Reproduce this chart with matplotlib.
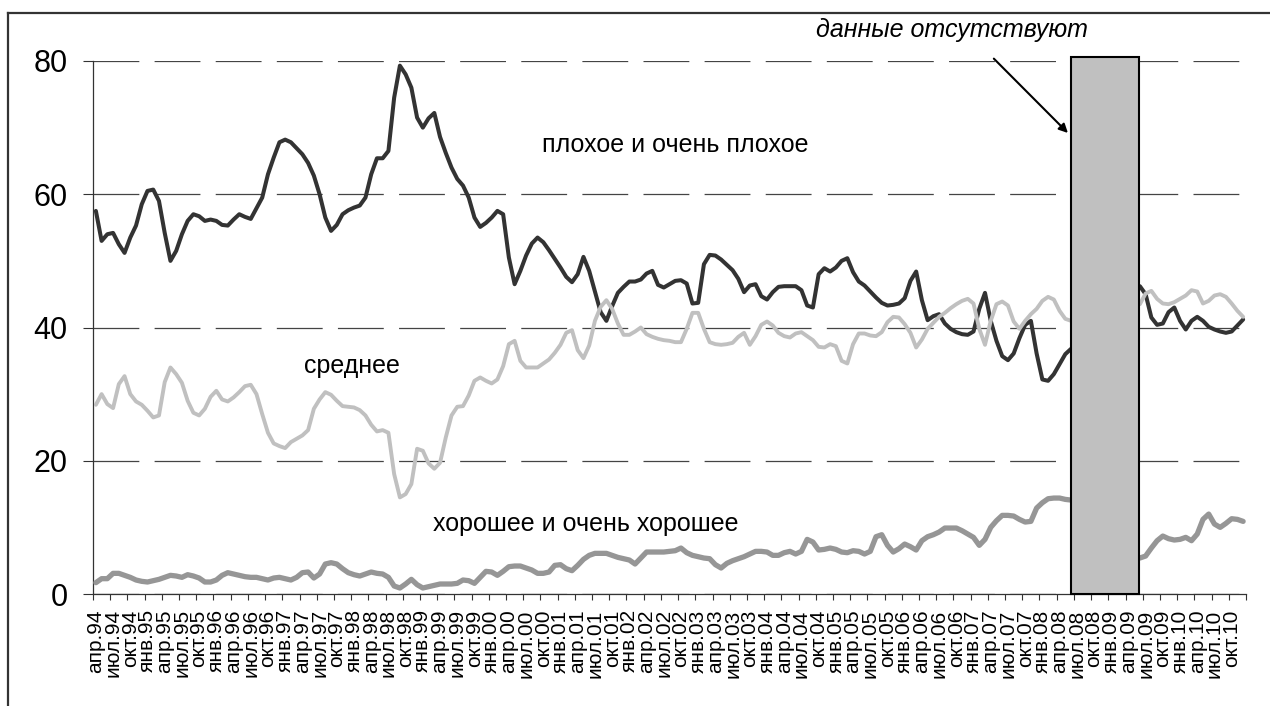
import numpy as np
import matplotlib
matplotlib.use("Agg")
import matplotlib.pyplot as plt
from matplotlib.lines import Line2D
from matplotlib.patches import Rectangle

plt.rcParams['font.family'] = ['Liberation Sans', 'DejaVu Sans']
plt.rcParams['lines.scale_dashes'] = False

nan = np.nan

# monthly values, апр.94 ... дек.10 (201 months); nan = no data
bad = [
    57.5, 53.0, 54.0, 54.2, 52.5, 51.2, 53.5, 55.3, 58.5, 60.5,
    60.7, 59.0, 54.2, 50.0, 51.5, 54.0, 56.0, 57.0, 56.7, 56.0,
    56.2, 56.0, 55.4, 55.3, 56.2, 57.0, 56.6, 56.3, 57.9, 59.5,
    63.0, 65.5, 67.8, 68.2, 67.8, 66.9, 66.0, 64.7, 62.8, 60.0,
    56.5, 54.5, 55.4, 57.0, 57.6, 58.0, 58.3, 59.5, 63.0, 65.4,
    65.4, 66.5, 74.5, 79.3, 78.0, 76.0, 71.5, 70.0, 71.4, 72.2,
    68.6, 66.2, 64.0, 62.3, 61.3, 59.5, 56.5, 55.1, 55.7, 56.5,
    57.5, 57.0, 50.5, 46.5, 48.5, 50.8, 52.6, 53.5, 52.8, 51.6,
    50.3, 49.0, 47.6, 46.8, 48.0, 50.6, 48.5, 45.4, 42.3, 41.0,
    43.2, 45.2, 46.1, 46.9, 46.9, 47.2, 48.1, 48.5, 46.4, 46.0,
    46.5, 47.0, 47.1, 46.6, 43.6, 43.7, 49.5, 50.9, 50.8, 50.2,
    49.4, 48.6, 47.3, 45.3, 46.3, 46.5, 44.7, 44.2, 45.3, 46.1,
    46.2, 46.2, 46.2, 45.6, 43.3, 43.0, 48.0, 48.9, 48.4, 49.0,
    50.0, 50.4, 48.3, 46.9, 46.3, 45.4, 44.5, 43.7, 43.3, 43.4,
    43.6, 44.4, 47.0, 48.4, 44.1, 41.1, 41.7, 42.0, 40.6, 39.8,
    39.3, 39.0, 38.9, 39.4, 42.8, 45.2, 41.0, 38.0, 35.7, 35.1,
    36.1, 38.4, 40.4, 41.0, 36.1, 32.2, 32.0, 33.0, 34.5, 36.0,
    36.8, nan, nan, nan, nan, nan, nan, nan, nan, nan,
    nan, nan, 46.2, 45.0, 41.5, 40.4, 40.6, 42.3, 43.0, 41.0,
    39.7, 41.0, 41.6, 41.0, 40.1, 39.7, 39.4, 39.2, 39.4, 40.3,
    41.2,
]

middle = [
    28.4, 30.0, 28.5, 27.9, 31.5, 32.7, 30.0, 28.9, 28.4, 27.5,
    26.5, 26.8, 31.8, 34.0, 33.0, 31.7, 29.0, 27.2, 26.8, 27.8,
    29.6, 30.5, 29.2, 28.9, 29.5, 30.3, 31.2, 31.4, 30.0, 27.0,
    24.2, 22.6, 22.2, 21.9, 22.8, 23.3, 23.8, 24.6, 27.8, 29.2,
    30.3, 29.9, 29.0, 28.2, 28.1, 28.0, 27.6, 26.8, 25.4, 24.4,
    24.6, 24.2, 18.0, 14.5, 15.0, 16.5, 21.8, 21.5, 19.6, 18.8,
    19.7, 23.5, 26.8, 28.1, 28.2, 29.8, 32.0, 32.5, 32.0, 31.6,
    32.2, 34.2, 37.5, 38.0, 35.0, 34.0, 34.0, 34.0, 34.6, 35.2,
    36.2, 37.4, 39.2, 39.6, 36.6, 35.4, 37.3, 41.0, 43.1, 44.1,
    42.8, 40.6, 38.9, 38.9, 39.4, 40.0, 39.0, 38.6, 38.3, 38.1,
    38.0, 37.8, 37.8, 39.8, 42.2, 42.2, 39.8, 37.8, 37.5, 37.4,
    37.5, 37.7, 38.6, 39.2, 37.4, 38.7, 40.4, 40.9, 40.3, 39.2,
    38.7, 38.5, 39.1, 39.3, 38.7, 38.1, 37.1, 37.0, 37.5, 37.2,
    35.0, 34.6, 37.5, 39.1, 39.1, 38.8, 38.7, 39.3, 40.8, 41.6,
    41.5, 40.5, 39.2, 37.0, 38.2, 39.8, 40.7, 41.6, 42.2, 42.9,
    43.5, 44.0, 44.3, 43.6, 39.8, 37.4, 41.0, 43.5, 43.9, 43.3,
    40.9, 39.8, 41.0, 42.0, 42.8, 44.0, 44.6, 44.2, 42.5, 41.3,
    41.0, nan, nan, nan, nan, nan, nan, nan, nan, nan,
    nan, nan, 43.5, 45.1, 45.5, 44.3, 43.6, 43.5, 43.8, 44.3,
    44.8, 45.6, 45.4, 43.6, 44.0, 44.8, 45.0, 44.6, 43.6, 42.5,
    41.6,
]

good = [
    1.7, 2.3, 2.3, 3.1, 3.1, 2.8, 2.5, 2.1, 1.9, 1.8,
    2.0, 2.2, 2.5, 2.8, 2.7, 2.5, 2.9, 2.7, 2.4, 1.8,
    1.8, 2.1, 2.8, 3.2, 3.0, 2.8, 2.6, 2.5, 2.5, 2.3,
    2.1, 2.4, 2.5, 2.3, 2.1, 2.5, 3.2, 3.3, 2.4, 3.0,
    4.5, 4.7, 4.5, 3.8, 3.2, 2.9, 2.7, 3.0, 3.3, 3.1,
    3.0, 2.5, 1.2, 0.9, 1.5, 2.2, 1.4, 0.9, 1.1, 1.3,
    1.5, 1.5, 1.5, 1.6, 2.1, 2.0, 1.6, 2.5, 3.4, 3.3,
    2.8, 3.4, 4.1, 4.2, 4.2, 3.9, 3.6, 3.1, 3.1, 3.3,
    4.3, 4.4, 3.8, 3.5, 4.3, 5.2, 5.8, 6.1, 6.1, 6.1,
    5.8, 5.5, 5.3, 5.1, 4.5, 5.4, 6.3, 6.3, 6.3, 6.3,
    6.4, 6.5, 6.9, 6.2, 5.8, 5.6, 5.4, 5.3, 4.4, 3.9,
    4.6, 5.0, 5.3, 5.6, 6.0, 6.4, 6.4, 6.3, 5.8, 5.8,
    6.2, 6.4, 6.0, 6.4, 8.2, 7.8, 6.6, 6.7, 6.9, 6.7,
    6.3, 6.2, 6.5, 6.4, 6.0, 6.4, 8.6, 8.9, 7.3, 6.3,
    6.8, 7.5, 7.1, 6.6, 8.0, 8.6, 8.9, 9.3, 9.9, 9.9,
    9.9, 9.5, 9.0, 8.5, 7.3, 8.2, 10.0, 11.0, 11.8, 11.8,
    11.7, 11.2, 10.8, 10.9, 12.9, 13.7, 14.3, 14.4, 14.4, 14.2,
    14.1, nan, nan, nan, nan, nan, nan, nan, nan, nan,
    nan, nan, 5.4, 5.7, 6.9, 8.0, 8.7, 8.3, 8.1, 8.2,
    8.5, 8.0, 9.0, 11.2, 12.0, 10.5, 10.0, 10.6, 11.3, 11.2,
    10.9,
]

quarter_labels = [
    'апр.94', 'июл.94', 'окт.94',
    'янв.95', 'апр.95', 'июл.95', 'окт.95',
    'янв.96', 'апр.96', 'июл.96', 'окт.96',
    'янв.97', 'апр.97', 'июл.97', 'окт.97',
    'янв.98', 'апр.98', 'июл.98', 'окт.98',
    'янв.99', 'апр.99', 'июл.99', 'окт.99',
    'янв.00', 'апр.00', 'июл.00', 'окт.00',
    'янв.01', 'апр.01', 'июл.01', 'окт.01',
    'янв.02', 'апр.02', 'июл.02', 'окт.02',
    'янв.03', 'апр.03', 'июл.03', 'окт.03',
    'янв.04', 'апр.04', 'июл.04', 'окт.04',
    'янв.05', 'апр.05', 'июл.05', 'окт.05',
    'янв.06', 'апр.06', 'июл.06', 'окт.06',
    'янв.07', 'апр.07', 'июл.07', 'окт.07',
    'янв.08', 'апр.08', 'июл.08', 'окт.08',
    'янв.09', 'апр.09', 'июл.09', 'окт.09',
    'янв.10', 'апр.10', 'июл.10', 'окт.10',
]

label_bad = 'плохое и очень плохое'
label_middle = 'среднее'
label_good = 'хорошее и очень хорошее'
label_gap = 'данные отсутствуют'

# missing-data period (month indices) and the height of the marker box
gap_first, gap_last, gap_height = 170.0, 181.9, 80.6

y_ticks = [0, 20, 40, 60, 80]

n = len(bad)
x = np.arange(n)

fig = plt.figure(figsize=(12.7, 7.06), dpi=100)
ax = fig.add_axes([93 / 1270, 1 - 594 / 706, (1246 - 93) / 1270, (594 - 61) / 706])

ax.plot(x, bad, color='#333333', lw=2.9, solid_joinstyle='round', solid_capstyle='round', zorder=3)
ax.plot(x, middle, color='#c0c0c0', lw=2.8, solid_joinstyle='round', solid_capstyle='round', zorder=3)
ax.plot(x, good, color='#969696', lw=3.8, solid_joinstyle='round', solid_capstyle='round', zorder=3)

ax.add_patch(Rectangle((gap_first, 0), gap_last - gap_first, gap_height,
                       facecolor='#c0c0c0', edgecolor='black', lw=1.5,
                       clip_on=False, zorder=5))

ax.set_xlim(-0.5, n - 0.5)
ax.set_ylim(0, 80)

ax.set_yticks(y_ticks)
ax.set_yticklabels([str(v) for v in y_ticks])
ax.tick_params(axis='y', length=7.2, width=0.8, pad=11, labelsize=22, color='#333333')
ax.yaxis.grid(True, linestyle=(0, (33, 11)), color='#444444', lw=0.9)
ax.set_axisbelow(True)

ax.set_xticks(np.arange(-0.5, n, 3))
ax.set_xticklabels([])
ax.set_xticks(np.arange(0, n, 3), minor=True)
ax.set_xticklabels(quarter_labels, minor=True, rotation=90, fontsize=15)
ax.tick_params(axis='x', which='major', length=4.5, width=0.8, color='#333333')
ax.tick_params(axis='x', which='minor', length=0, pad=11)

for s in ['top', 'right']:
    ax.spines[s].set_visible(False)
for s in ['left', 'bottom']:
    ax.spines[s].set_color('#333333')
    ax.spines[s].set_linewidth(0.9)

ax.text(101.0, 66.4, label_bad, ha='center', va='baseline', fontsize=18)
ax.text(44.65, 33.2, label_middle, ha='center', va='baseline', fontsize=18)
ax.text(85.45, 9.5, label_good, ha='center', va='baseline', fontsize=18)
ax.text(149.3, 83.56, label_gap, ha='center', va='baseline', fontsize=18,
        style='italic', clip_on=False)
ax.annotate('', xy=(169.8, 68.9), xytext=(156.2, 80.65),
            arrowprops=dict(arrowstyle='-|>', color='black', lw=1.5, mutation_scale=13),
            annotation_clip=False)

# outer chart frame (partly visible)
fy = 1 - 12.7 / 706
fx = 8.3 / 1270
fig.add_artist(Line2D([fx, 1], [fy, fy], transform=fig.transFigure, color='#333333', lw=1.6))
fig.add_artist(Line2D([fx, fx], [0, fy], transform=fig.transFigure, color='#333333', lw=1.6))

fig.savefig('out.png', dpi=100)
